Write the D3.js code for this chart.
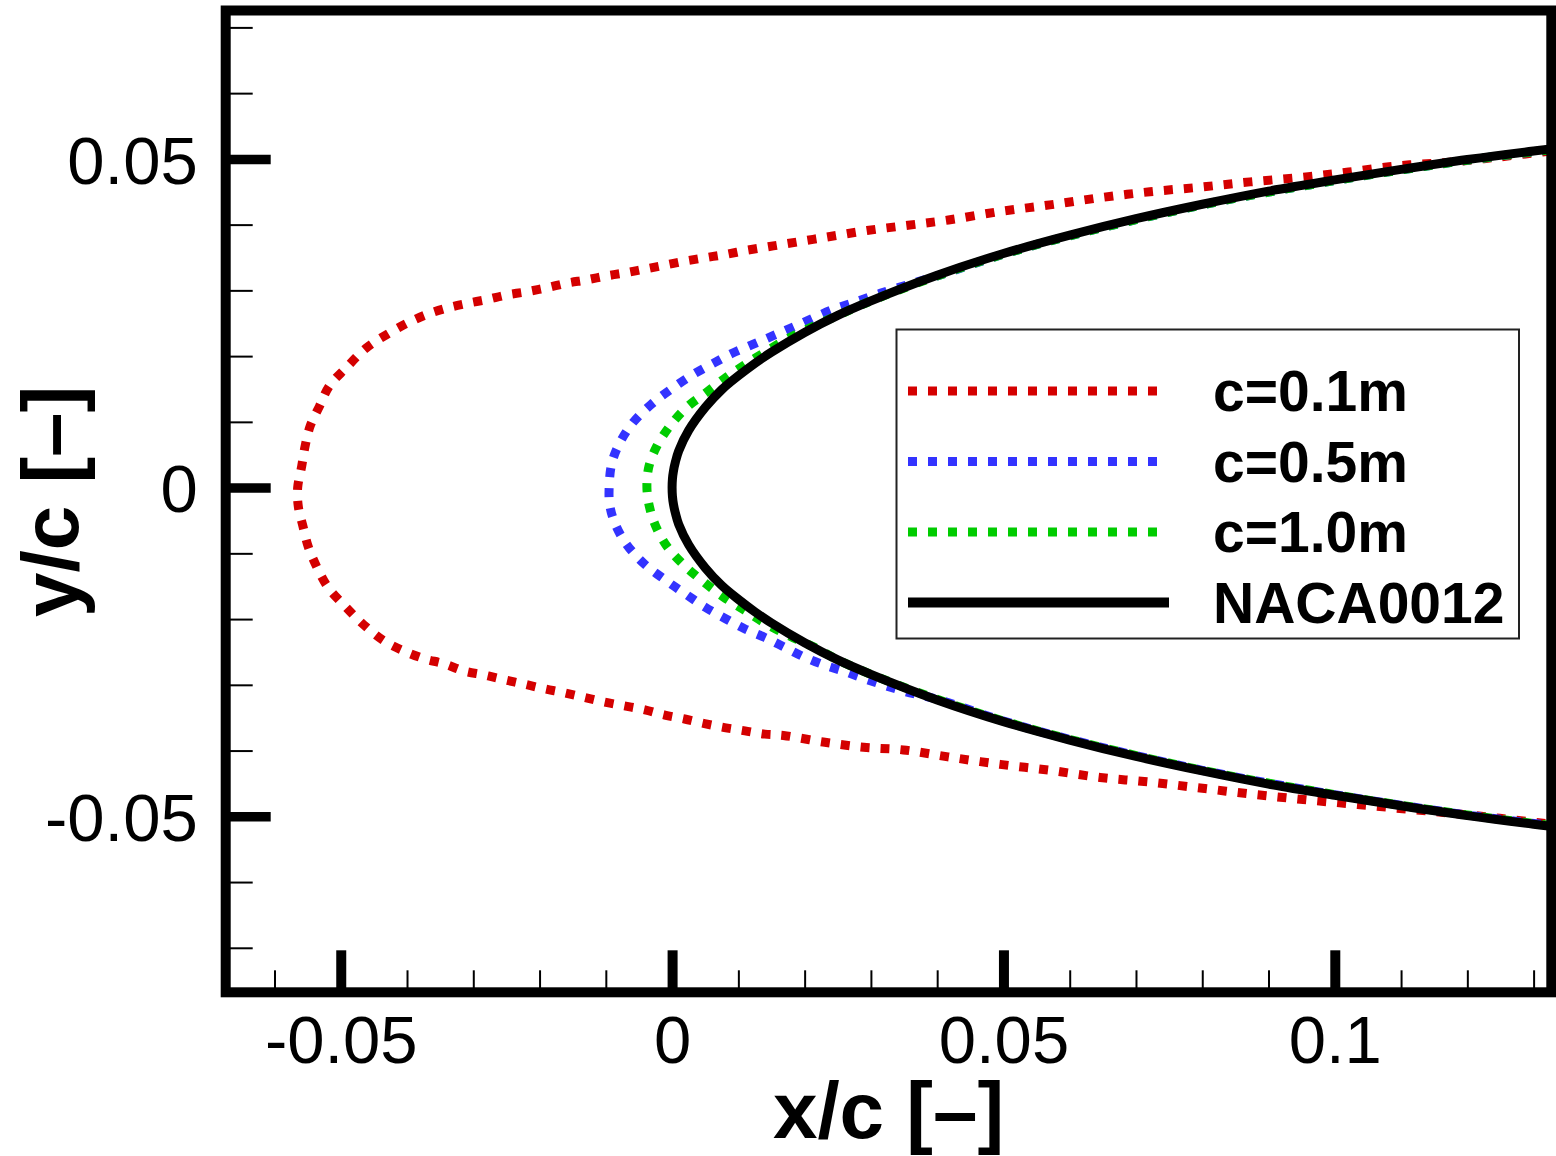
<!DOCTYPE html>
<html>
<head>
<meta charset="utf-8">
<script src="https://cdn.jsdelivr.net/npm/d3@7"></script>
<style>
  html, body { margin: 0; padding: 0; background: #ffffff; }
  svg { display: block; }
  text { font-family: "Liberation Sans", Arial, Helvetica, sans-serif; fill: #000; }
</style>
</head>
<body>
<svg id="chart" width="1556" height="1156"></svg>
<script>
// ---------------- data ----------------
const xMajorTicks = [-0.05, 0, 0.05, 0.1];
const xMajorLabels = ["-0.05", "0", "0.05", "0.1"];
const xMinorTicks = [-0.06, -0.04, -0.03, -0.02, -0.01, 0.01, 0.02, 0.03, 0.04, 0.06, 0.07, 0.08, 0.09, 0.11, 0.12, 0.13];
const yMajorTicks = [-0.05, 0, 0.05];
const yMajorLabels = ["-0.05", "0", "0.05"];
const yMinorTicks = [-0.07, -0.06, -0.04, -0.03, -0.02, -0.01, 0.01, 0.02, 0.03, 0.04, 0.06, 0.07];

const xTitle = "x/c [\u2013]";
const yTitle = "y/c [\u2013]";

const seriesNames = ["c=0.1m", "c=0.5m", "c=1.0m", "NACA0012"];
const seriesColors = ["#d40000", "#3333ff", "#00cc00", "#000000"];

// contour points [x/c, y/c]: upper surface from trailing side to leading edge, then lower surface
const contourC01 = [
  [0.1326, 0.0512], [0.1249, 0.0503], [0.1173, 0.0495], [0.1113, 0.0491], [0.1082, 0.0488], [0.1021, 0.0480],
  [0.0960, 0.0473], [0.0872, 0.0465], [0.0797, 0.0457], [0.0721, 0.0450], [0.0646, 0.0441], [0.0570, 0.0430],
  [0.0495, 0.0420], [0.0417, 0.0407], [0.0356, 0.0399], [0.0294, 0.0391], [0.0233, 0.0381], [0.0173, 0.0371],
  [0.0143, 0.0366], [0.0113, 0.0361], [0.0082, 0.0355], [0.0052, 0.0350], [0.0022, 0.0345], [-0.0008, 0.0339],
  [-0.0038, 0.0333], [-0.0069, 0.0327], [-0.0099, 0.0322], [-0.0129, 0.0316], [-0.0159, 0.0311], [-0.0189, 0.0304],
  [-0.0219, 0.0298], [-0.0250, 0.0293], [-0.0280, 0.0286], [-0.0310, 0.0280], [-0.0340, 0.0273], [-0.0371, 0.0263],
  [-0.0400, 0.0250], [-0.0432, 0.0232], [-0.0462, 0.0212], [-0.0492, 0.0182], [-0.0517, 0.0155], [-0.0532, 0.0124],
  [-0.0546, 0.0094], [-0.0554, 0.0062], [-0.0559, 0.0032], [-0.0565, 0.0000],
  [-0.0564, -0.0029], [-0.0557, -0.0059], [-0.0549, -0.0090], [-0.0536, -0.0121], [-0.0519, -0.0152], [-0.0492, -0.0182],
  [-0.0465, -0.0209], [-0.0435, -0.0233], [-0.0406, -0.0248], [-0.0375, -0.0260], [-0.0344, -0.0268], [-0.0314, -0.0279],
  [-0.0284, -0.0285], [-0.0254, -0.0292], [-0.0223, -0.0299], [-0.0193, -0.0306], [-0.0163, -0.0312], [-0.0133, -0.0319],
  [-0.0103, -0.0326], [-0.0072, -0.0332], [-0.0041, -0.0338], [-0.0011, -0.0346], [0.0019, -0.0352], [0.0049, -0.0359],
  [0.0079, -0.0365], [0.0110, -0.0370], [0.0140, -0.0375], [0.0168, -0.0377], [0.0228, -0.0387], [0.0289, -0.0395],
  [0.0349, -0.0399], [0.0419, -0.0410], [0.0495, -0.0421], [0.0570, -0.0430], [0.0646, -0.0441], [0.0721, -0.0448],
  [0.0797, -0.0457], [0.0872, -0.0466], [0.0948, -0.0474], [0.1023, -0.0481], [0.1098, -0.0488], [0.1173, -0.0495],
  [0.1249, -0.0503], [0.1326, -0.0512]
];

const contourC05 = [
  [0.1326, 0.0514], [0.12, 0.0498], [0.10, 0.0467], [0.08, 0.0430], [0.06, 0.0383], [0.05, 0.0355], [0.04, 0.0322],
  [0.0334, 0.0302], [0.0304, 0.0292], [0.0273, 0.0281], [0.0243, 0.0271], [0.0213, 0.0258], [0.0180, 0.0243],
  [0.0150, 0.0230], [0.0120, 0.0217], [0.0090, 0.0204], [0.0062, 0.0189], [0.0030, 0.0171], [-0.0001, 0.0150],
  [-0.0031, 0.0127], [-0.0059, 0.0099], [-0.0079, 0.0068], [-0.0091, 0.0037], [-0.0095, 0.0000],
  [-0.0094, -0.0027], [-0.0086, -0.0055], [-0.0069, -0.0086], [-0.0041, -0.0117], [-0.0011, -0.0140], [0.0019, -0.0161],
  [0.0050, -0.0182], [0.0080, -0.0199], [0.0110, -0.0215], [0.0140, -0.0228], [0.0170, -0.0243], [0.0200, -0.0258],
  [0.0230, -0.0270], [0.0261, -0.0280], [0.0291, -0.0291], [0.0321, -0.0301], [0.0351, -0.0310], [0.04, -0.0322],
  [0.05, -0.0355], [0.06, -0.0383], [0.08, -0.0430], [0.10, -0.0467], [0.12, -0.0498], [0.1326, -0.0514]
];

const contourC10 = [
  [0.1326, 0.0514], [0.12, 0.0498], [0.10, 0.0467], [0.08, 0.0430], [0.06, 0.0383], [0.05, 0.0355], [0.04, 0.0322],
  [0.03, 0.0284], [0.025, 0.0262], [0.0208, 0.0243], [0.0175, 0.0227], [0.0145, 0.0209], [0.0113, 0.0189],
  [0.0082, 0.0168], [0.0052, 0.0145], [0.0022, 0.0122], [-0.0003, 0.0094], [-0.0023, 0.0063], [-0.0035, 0.0032],
  [-0.0038, 0.0000],
  [-0.0034, -0.0030], [-0.0025, -0.0058], [-0.0008, -0.0089], [0.0017, -0.0117], [0.0047, -0.0143], [0.0077, -0.0166],
  [0.0110, -0.0187], [0.0140, -0.0206], [0.0178, -0.0226], [0.0215, -0.0243], [0.025, -0.0262], [0.03, -0.0284],
  [0.04, -0.0322], [0.05, -0.0355], [0.06, -0.0383], [0.08, -0.0430], [0.10, -0.0467], [0.12, -0.0498], [0.1326, -0.0514]
];

const contourNACA = [
  [0.1326, 0.0515], [0.13, 0.0512], [0.12, 0.0499], [0.11, 0.0484], [0.10, 0.0468], [0.09, 0.0451], [0.08, 0.0431],
  [0.07, 0.0409], [0.06, 0.0384], [0.05, 0.0356], [0.04, 0.0323], [0.03, 0.0284], [0.025, 0.0262], [0.02, 0.0236],
  [0.015, 0.0206], [0.0125, 0.0189], [0.01, 0.0170], [0.0075, 0.0149], [0.005, 0.0122], [0.0025, 0.0087],
  [0.001, 0.0056], [0.0005, 0.0039], [0.0002, 0.0025], [0.00005, 0.0013], [0, 0],
  [0.00005, -0.0013], [0.0002, -0.0025], [0.0005, -0.0039], [0.001, -0.0056], [0.0025, -0.0087], [0.005, -0.0122],
  [0.0075, -0.0149], [0.01, -0.0170], [0.0125, -0.0189], [0.015, -0.0206], [0.02, -0.0236], [0.025, -0.0262],
  [0.03, -0.0284], [0.04, -0.0323], [0.05, -0.0356], [0.06, -0.0384], [0.07, -0.0409], [0.08, -0.0431],
  [0.09, -0.0451], [0.10, -0.0468], [0.11, -0.0484], [0.12, -0.0499], [0.13, -0.0512], [0.1326, -0.0515]
];

const seriesData = [contourC01, contourC05, contourC10, contourNACA];
const seriesDashes = ["9,11", "9,11", "9,11", null];

// ---------------- layout ----------------
const plotLeft = 225.7, plotRight = 1551.3, plotTop = 10.5, plotBottom = 992.3;
const xDomain = [-0.06736, 0.13267];
const yDomain = [-0.07677, 0.07257];

const svg = d3.select("#chart");
const x = d3.scaleLinear().domain(xDomain).range([plotLeft, plotRight]);
const y = d3.scaleLinear().domain(yDomain).range([plotBottom, plotTop]);

svg.append("rect").attr("width", 1556).attr("height", 1156).attr("fill", "#fff");

svg.append("clipPath").attr("id", "clip")
  .append("rect").attr("x", plotLeft).attr("y", plotTop)
  .attr("width", plotRight - plotLeft).attr("height", plotBottom - plotTop);

// ---------------- curves ----------------
const line = d3.line()
  .x(d => x(d[0])).y(d => y(d[1]))
  .curve(d3.curveCatmullRom.alpha(0.5));

const curves = svg.append("g").attr("clip-path", "url(#clip)");
seriesData.forEach((data, i) => {
  const p = curves.append("path")
    .datum(data)
    .attr("d", line)
    .attr("fill", "none")
    .attr("stroke", seriesColors[i])
    .attr("stroke-width", 9)
    .attr("stroke-linejoin", "round");
  if (seriesDashes[i]) p.attr("stroke-dasharray", seriesDashes[i]).attr("stroke-linecap", "butt");
});

// ---------------- axes ----------------
function styleAxis(g, width) {
  g.select(".domain").remove();
  g.selectAll(".tick line").attr("stroke", "#000").attr("stroke-width", width);
}

// x minor / major ticks (pointing inward)
svg.append("g").attr("transform", `translate(0,${plotBottom})`)
  .call(d3.axisBottom(x).tickValues(xMinorTicks).tickSize(-22).tickFormat(""))
  .call(g => styleAxis(g, 2));
const xMajorAxis = svg.append("g").attr("transform", `translate(0,${plotBottom})`)
  .call(d3.axisBottom(x).tickValues(xMajorTicks).tickSize(-42)
    .tickFormat((d, i) => xMajorLabels[i]))
  .call(g => styleAxis(g, 10));
xMajorAxis.selectAll(".tick text")
  .attr("y", 70.7).attr("dy", null)
  .attr("font-size", 67)
  .attr("font-family", "'Liberation Sans', Arial, sans-serif")
  .attr("fill", "#000");

// y minor / major ticks
svg.append("g").attr("transform", `translate(${plotLeft},0)`)
  .call(d3.axisLeft(y).tickValues(yMinorTicks).tickSize(-27).tickFormat(""))
  .call(g => styleAxis(g, 2));
const yMajorAxis = svg.append("g").attr("transform", `translate(${plotLeft},0)`)
  .call(d3.axisLeft(y).tickValues(yMajorTicks).tickSize(-45)
    .tickFormat((d, i) => yMajorLabels[i]))
  .call(g => styleAxis(g, 9.5));
yMajorAxis.selectAll(".tick text")
  .attr("x", -28).attr("dy", "0.36em")
  .attr("text-anchor", "end")
  .attr("font-size", 67)
  .attr("font-family", "'Liberation Sans', Arial, sans-serif")
  .attr("fill", "#000");

// frame
svg.append("rect")
  .attr("x", plotLeft).attr("y", plotTop)
  .attr("width", plotRight - plotLeft).attr("height", plotBottom - plotTop)
  .attr("fill", "none").attr("stroke", "#000").attr("stroke-width", 10);

// axis titles
svg.append("text")
  .attr("x", (plotLeft + plotRight) / 2).attr("y", 1138)
  .attr("text-anchor", "middle")
  .attr("font-size", 80).attr("font-weight", "bold")
  .text(xTitle);
svg.append("text")
  .attr("transform", `translate(78,${(plotTop + plotBottom) / 2}) rotate(-90)`)
  .attr("text-anchor", "middle")
  .attr("font-size", 80).attr("font-weight", "bold")
  .text(yTitle);

// ---------------- legend ----------------
const legend = svg.append("g");
legend.append("rect")
  .attr("x", 896.5).attr("y", 329.5).attr("width", 622.5).attr("height", 309)
  .attr("fill", "#fff").attr("stroke", "#222").attr("stroke-width", 2);
const legendRowY = [391, 461.5, 532, 602.5];
seriesNames.forEach((name, i) => {
  const l = legend.append("line")
    .attr("x1", 908).attr("x2", i === 3 ? 1169 : 1159)
    .attr("y1", legendRowY[i]).attr("y2", legendRowY[i])
    .attr("stroke", seriesColors[i])
    .attr("stroke-width", i === 3 ? 10 : 9);
  if (seriesDashes[i]) l.attr("stroke-dasharray", seriesDashes[i]);
  legend.append("text")
    .attr("x", 1213).attr("y", legendRowY[i] + 20)
    .attr("font-size", 57).attr("font-weight", "bold")
    .text(name);
});
</script>
</body>
</html>
